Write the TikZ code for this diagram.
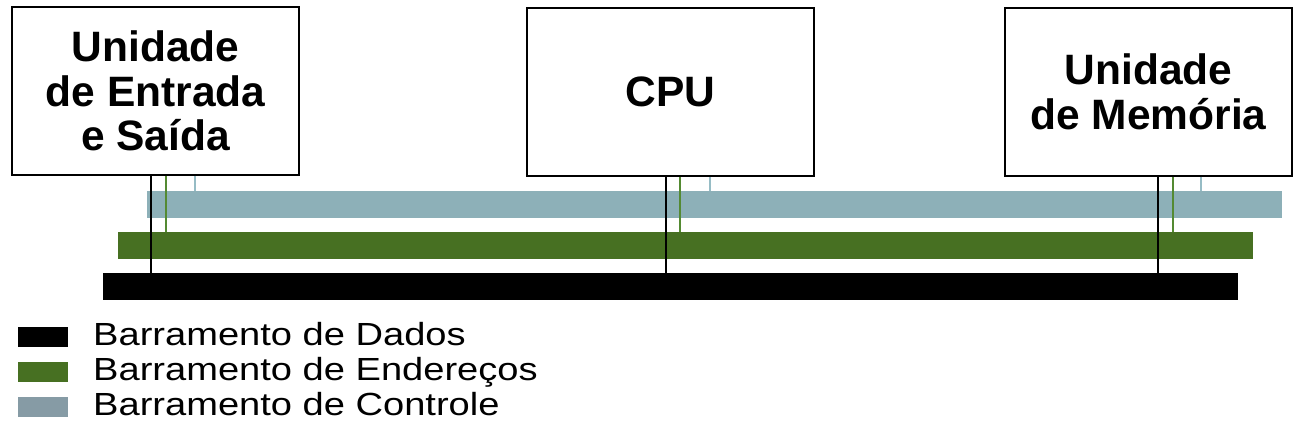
\documentclass[tikz,border=0pt]{standalone}
\usepackage{fontspec}
\usepackage{graphicx}
\setmainfont{Liberation Sans}
\definecolor{ctrlbar}{RGB}{141,176,184}
\definecolor{ctrlline}{RGB}{150,188,197}
\definecolor{addrbar}{RGB}{71,112,34}
\definecolor{addrline}{RGB}{84,138,50}
\definecolor{ctrlkey}{RGB}{134,155,165}
\tikzset{
  unitbox/.style={draw=black, line width=1.6pt, fill=white, minimum width=287pt, minimum height=168pt, inner sep=0pt, align=center, font=\fontsize{42.5}{44.5}\selectfont\bfseries},
  busbar/.style={minimum width=1135pt, minimum height=26.5pt, inner sep=0pt, anchor=north west},
  dline/.style={draw=black, line width=1.7pt},
  aline/.style={draw=addrline, line width=1.8pt},
  cline/.style={draw=ctrlline, line width=1.8pt},
  keybox/.style={minimum width=50pt, minimum height=20pt, inner sep=0pt, anchor=north west},
  keytext/.style={anchor=base west, inner sep=0pt, font=\fontsize{32}{34}\selectfont}
}
\begin{document}
\begin{tikzpicture}[x=1pt,y=-1pt]
\useasboundingbox (0,0) rectangle (1306,440);
% buses
\node[busbar, fill=ctrlbar] (cbus) at (147,191) {};
\node[busbar, fill=addrbar] (abus) at (118,232) {};
\node[busbar, fill=black] (dbus) at (103,273) {};
% units
\node[unitbox] (io) at (155.5,91) {Unidade\\de Entrada\\e Saída};
\node[unitbox] (cpu) at (670.5,92) {CPU};
\node[unitbox] (mem) at (1148.5,92) {Unidade\\de Memória};
% connectors: io
\draw[dline] ([xshift=140pt]io.south west) -- ([xshift=140pt]io.south west |- dbus.north);
\draw[aline] ([xshift=155pt]io.south west) -- ([xshift=155pt]io.south west |- abus.north);
\draw[cline] ([xshift=184pt]io.south west) -- ([xshift=184pt]io.south west |- cbus.north);
% connectors: cpu
\draw[dline] ([xshift=140pt]cpu.south west) -- ([xshift=140pt]cpu.south west |- dbus.north);
\draw[aline] ([xshift=154pt]cpu.south west) -- ([xshift=154pt]cpu.south west |- abus.north);
\draw[cline] ([xshift=184pt]cpu.south west) -- ([xshift=184pt]cpu.south west |- cbus.north);
% connectors: mem
\draw[dline] ([xshift=153.5pt]mem.south west) -- ([xshift=153.5pt]mem.south west |- dbus.north);
\draw[aline] ([xshift=168.5pt]mem.south west) -- ([xshift=168.5pt]mem.south west |- abus.north);
\draw[cline] ([xshift=197pt]mem.south west) -- ([xshift=197pt]mem.south west |- cbus.north);
% legend
\node[keybox, fill=black] (k1) at (18,327) {};
\node[keybox, fill=addrbar] (k2) at (18,362) {};
\node[keybox, fill=ctrlkey] (k3) at (18,397) {};
\node[keytext] (t1) at (93,345) {\scalebox{1.19}[1]{Barramento de Dados}};
\node[keytext] (t2) at (93,380) {\scalebox{1.19}[1]{Barramento de Endereços}};
\node[keytext] (t3) at (93,415) {\scalebox{1.19}[1]{Barramento de Controle}};
\end{tikzpicture}
\end{document}
